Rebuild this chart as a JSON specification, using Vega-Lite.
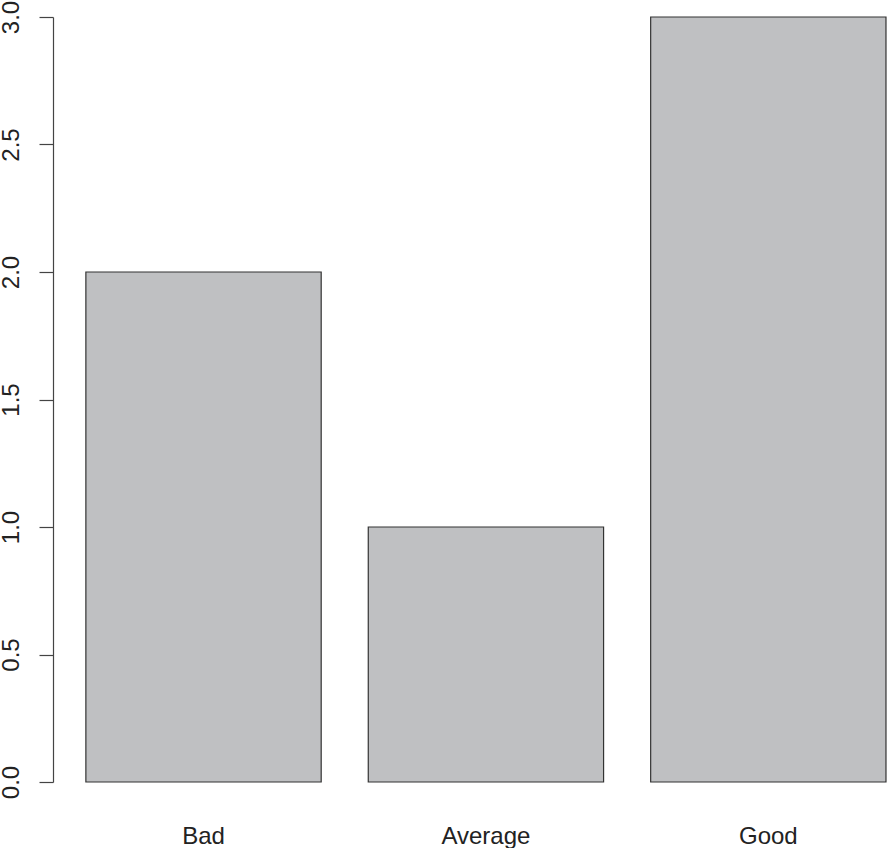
{
  "$schema": "https://vega.github.io/schema/vega-lite/v6.json",
  "width": 834,
  "height": 765,
  "autosize": {"type": "none"},
  "padding": {"left": 53, "top": 17, "right": 0, "bottom": 66},
  "background": "white",
  "config": {"view": {"stroke": null}, "font": "Liberation Sans"},
  "data": {"values": [
    {"category": "Bad", "value": 2},
    {"category": "Average", "value": 1},
    {"category": "Good", "value": 3}
  ]},
  "mark": {"type": "bar", "fill": "#bfc0c2", "stroke": "#333333", "strokeWidth": 1.2},
  "encoding": {
    "x": {
      "field": "category", "type": "nominal", "sort": null,
      "scale": {"paddingInner": 0.1667, "paddingOuter": 0.06, "align": 0.97},
      "axis": {"title": null, "domain": false, "ticks": false, "labelAngle": 0, "labelFontSize": 24, "labelColor": "#222222", "labelPadding": 42, "labelFont": "Liberation Sans"}
    },
    "y": {
      "field": "value", "type": "quantitative",
      "scale": {"domain": [0, 3], "nice": false, "zero": true},
      "axis": {"title": null, "grid": false, "values": [0, 0.5, 1, 1.5, 2, 2.5, 3], "format": ".1f", "labelAngle": 270, "labelFontSize": 24, "labelColor": "#222222", "labelPadding": 16, "tickSize": 14, "tickColor": "#444444", "domainColor": "#444444", "tickWidth": 1.2, "domainWidth": 1.2, "labelFont": "Liberation Sans"}
    }
  }
}
